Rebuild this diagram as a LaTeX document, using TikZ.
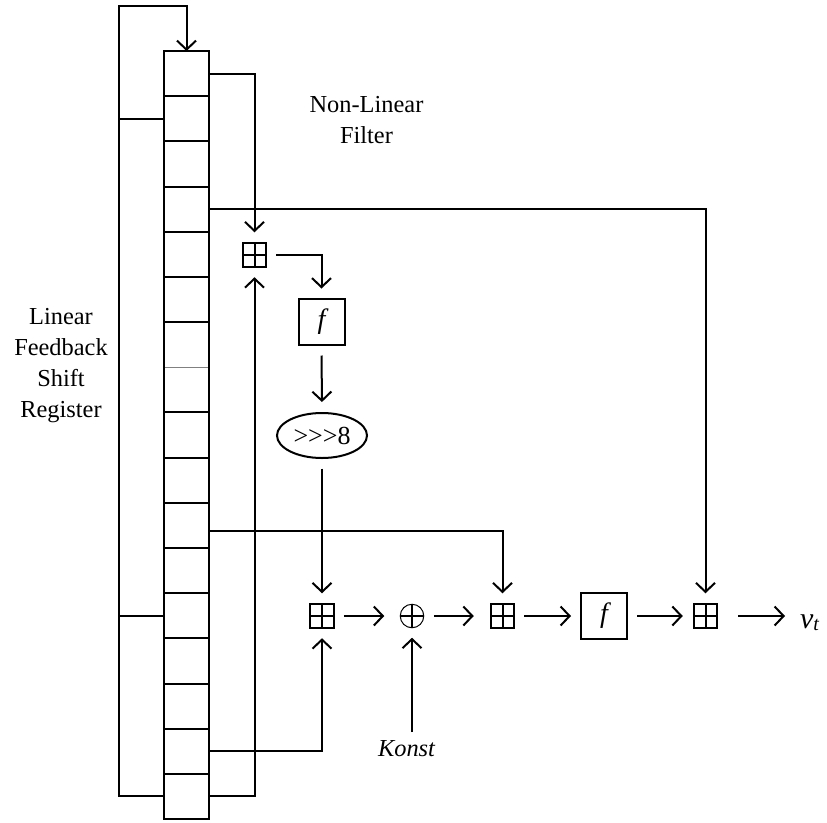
\documentclass[tikz,border=0pt]{standalone}
\usepackage{fontspec}
\setmainfont{Liberation Serif}
\usetikzlibrary{arrows.meta,shapes.geometric}
\tikzset{
  every node/.style={inner sep=0pt,outer sep=0pt},
  base/.style={line width=2pt,miter limit=10},
  arr/.style={base,-{Straight Barb[length=9pt,width=19pt,line width=2pt]}},
  cell/.style={draw,line width=2pt,minimum width=45pt,minimum height=45.18pt},
  lbl/.style={font=\fontsize{24.4}{30.7}\selectfont,align=center},
  fbox/.style={draw,line width=2pt,minimum size=46pt,font=\fontsize{28}{28}\selectfont\itshape},
  addbox/.style={draw,line width=2pt,minimum size=23.5pt,
    path picture={\draw[line width=2pt] (path picture bounding box.north) -- (path picture bounding box.south)
      (path picture bounding box.west) -- (path picture bounding box.east);}},
  xorc/.style={draw,circle,line width=1pt,minimum size=23.5pt,
    path picture={\draw[line width=2pt] (path picture bounding box.north) -- (path picture bounding box.south)
      (path picture bounding box.west) -- (path picture bounding box.east);}},
}
\begin{document}
\begin{tikzpicture}[x=1pt,y=-1pt]
\useasboundingbox (0,0) rectangle (827,822);
% register
\foreach \k in {1,...,17} {
  \node[cell] (c\k) at (186.5,{51+45.18*(\k-0.5)}) {};
}
\draw[white,line width=3pt] ([xshift=1pt]c7.south west) -- ([xshift=-1pt]c7.south east);
\draw[gray,line width=.9pt] ([xshift=1pt]c7.south west) -- ([xshift=-1pt]c7.south east);
% operators
\node[addbox] (a1) at (254.5,255) {};
\node[fbox] (f1) at (321.5,322) {f};
\node[draw,ellipse,line width=2pt,minimum width=90pt,minimum height=45pt,font=\fontsize{26}{26}\selectfont] (rot) at (322,435.5) {>{}>{}>8};
\node[addbox] (a2) at (322,616) {};
\node[xorc] (x) at (412,616) {};
\node[addbox] (a3) at (502.5,616) {};
\node[fbox] (f2) at (604,616) {f};
\node[addbox] (a4) at (705.5,616) {};
\node[anchor=base west] (v) at (800,628) {\fontsize{30}{30}\selectfont\itshape v\raisebox{-2.5pt}{\fontsize{20}{20}\selectfont t}};
\node[lbl,font=\fontsize{24.4}{24.4}\selectfont\itshape,anchor=base] (k) at (406.5,756) {Konst};
\node[lbl,anchor=base] (l1) at (61,417) {Linear\\Feedback\\Shift\\Register};
\node[lbl,anchor=base] (l2) at (366.5,143) {Non-Linear\\Filter};
% coordinates
\coordinate (top) at (119,6);
\coordinate (c11t) at ([yshift=-5.5pt]c11.east);
% feedback loop
\draw[arr] (c17.west) -| (top) -| (c1.north);
\draw[base] (c2.west) -- (c2.west -| top);
\draw[base] (c13.west) -- (c13.west -| top);
% taps
\draw[arr,shorten >=11pt] (c1.east) -| (a1.north);
\draw[arr,shorten >=10.5pt] (c17.east) -| (a1.south);
\draw[arr,shorten <=10pt,shorten >=10.5pt] (a1.east) -| (f1.north);
\draw[arr,shorten <=10.5pt,shorten >=11pt] (f1.south) -- (rot.north);
\draw[arr,shorten <=10.5pt,shorten >=11pt] (rot.south) -- (a2.north);
\draw[arr,shorten >=10.5pt] (c16.east) -| (a2.south);
\draw[arr,shorten <=10pt,shorten >=16pt] (a2.east) -- (x.west);
\draw[arr,shorten <=10pt,shorten >=17pt] (x.east) -- (a3.west);
\draw[arr,shorten >=11pt] (c11t) -| (a3.north);
\draw[arr,shorten <=10pt,shorten >=10pt] (a3.east) -- (f2.west);
\draw[arr,shorten <=10pt,shorten >=11pt] (f2.east) -- (a4.west);
\draw[arr,shorten >=11pt] (c4.east) -| (a4.north);
\draw[arr,shorten <=21pt,shorten >=15pt] (a4.east) -- (a4.east -| v.west);
\draw[arr,shorten <=8pt,shorten >=10pt] (x.south |- k.north) -- (x.south);
\end{tikzpicture}
\end{document}
